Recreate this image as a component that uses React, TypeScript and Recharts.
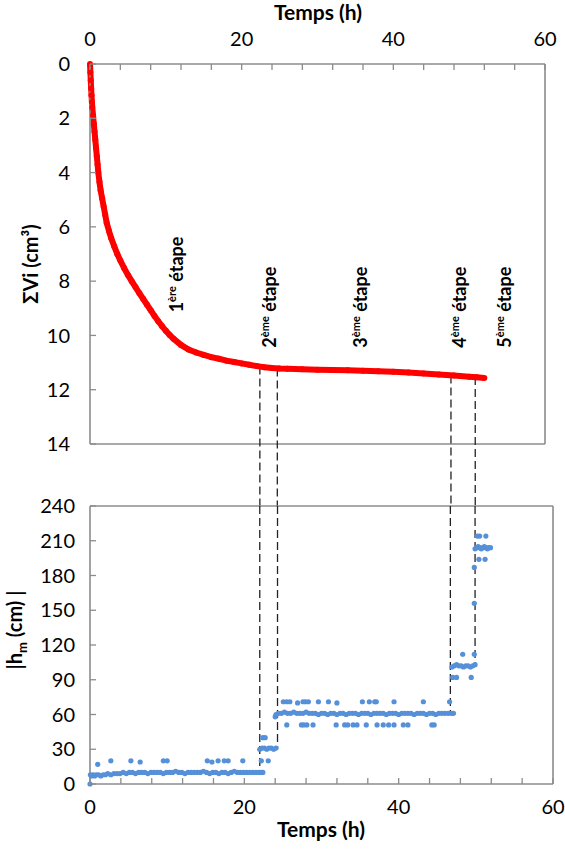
import React from "react";
import { ComposedChart, Line, Scatter, XAxis, YAxis, ReferenceLine, ReferenceDot, Label } from "recharts";

const FONT = "Lato, 'Open Sans', sans-serif";
const AXIS = "#8c8c8c";
const RED = "#ff0000";
const BLUE = "#5590d9";
const DASH = "#222222";

// shared axis ticks (labels only on every 20 h)
const timeTicks = [0, 4, 8, 12, 16, 20, 24, 28, 32, 36, 40, 44, 48, 52, 56, 60];
const volTicks = [0, 2, 4, 6, 8, 10, 12, 14];
const headTicks = [0, 30, 60, 90, 120, 150, 180, 210, 240];

// top: cumulative infiltrated volume ΣVi (cm3) vs time (h)
const curveT = [0, 0.05, 0.1, 0.15, 0.2, 0.25, 0.3, 0.4, 0.5, 0.6, 0.7, 0.8, 0.9, 1.0, 1.1, 1.25, 1.4, 1.6, 1.8, 2.0, 2.2, 2.5, 2.8, 3.2, 3.6, 4.0, 4.5, 5.0, 5.5, 6.0, 6.5, 7.0, 7.5, 8.0, 8.5, 9.0, 9.5, 10, 10.5, 11, 12, 13, 14, 15, 16, 17, 18, 19, 20, 21, 22, 23, 24, 25, 26, 28, 30, 32, 34, 36, 38, 40, 42, 44, 46, 48, 50, 51, 52];
const curveV = [0, 0.3, 0.6, 0.9, 1.15, 1.4, 1.6, 1.9, 2.2, 2.5, 2.8, 3.1, 3.4, 3.7, 4.0, 4.35, 4.65, 4.95, 5.25, 5.55, 5.85, 6.15, 6.42, 6.72, 7.0, 7.24, 7.52, 7.77, 8.0, 8.22, 8.44, 8.65, 8.86, 9.07, 9.28, 9.48, 9.66, 9.83, 9.98, 10.12, 10.35, 10.52, 10.63, 10.72, 10.8, 10.86, 10.93, 10.98, 11.03, 11.08, 11.13, 11.17, 11.2, 11.22, 11.23, 11.25, 11.26, 11.27, 11.28, 11.3, 11.32, 11.34, 11.37, 11.4, 11.44, 11.48, 11.52, 11.54, 11.57];

// bottom: |hm| (cm) vs time (h), one list per stage
const stage1 = [
  [0, 0], [0.05, 8], [0.2, 7], [0.4, 8], [0.6, 7], [0.8, 8], [1.1, 8], [1.4, 7], [1.7, 8], [2.0, 8], [2.3, 9], [2.7, 8],
  [3.1, 9], [3.5, 9], [3.9, 9], [4.3, 10], [4.7, 9], [5.1, 10], [5.5, 10], [5.9, 9], [6.3, 10], [6.7, 10], [7.1, 10],
  [7.5, 9], [7.9, 10], [8.3, 10], [8.7, 10], [9.1, 10], [9.5, 9], [9.9, 10], [10.3, 10], [10.7, 10], [11.1, 11], [11.5, 10],
  [11.9, 10], [12.3, 9], [12.7, 10], [13.1, 10], [13.5, 10], [13.9, 10], [14.3, 10], [14.7, 11], [15.1, 10], [15.5, 9],
  [15.9, 10], [16.3, 10], [16.7, 9], [17.1, 10], [17.5, 10], [17.9, 9], [18.3, 10], [18.7, 11], [19.1, 10], [19.5, 10],
  [19.9, 10], [20.3, 10], [20.7, 10], [21.1, 10], [21.5, 10], [21.9, 10], [22.2, 10], [22.4, 10],
  [1.0, 17], [2.7, 20], [5.3, 20], [6.5, 19], [9.5, 20], [10.0, 20], [15.2, 20], [15.8, 19], [16.6, 20], [17.4, 20], [17.9, 20], [19.8, 20],
];
const stage2 = [
  [22.0, 30], [22.3, 31], [22.6, 31], [22.9, 30], [23.2, 31], [23.5, 31], [23.8, 30], [24.1, 31],
  [22.4, 40], [22.7, 40], [22.2, 20], [23.1, 20],
];
const stage3 = [
  [24.0, 58], [24.1, 60], [24.4, 61], [24.8, 61], [25.2, 62], [25.6, 61], [26.0, 61], [26.4, 62], [26.8, 61], [27.2, 61],
  [27.6, 61], [28.0, 62], [28.4, 61], [28.8, 61], [29.2, 61], [29.6, 60], [30.0, 61], [30.4, 61], [30.8, 60], [31.2, 61],
  [31.6, 61], [32.0, 60], [32.4, 61], [32.8, 61], [33.2, 60], [33.6, 61], [34.0, 61], [34.4, 61], [34.8, 60], [35.2, 61],
  [35.6, 61], [36.0, 61], [36.4, 60], [36.8, 61], [37.2, 61], [37.6, 61], [38.0, 61], [38.4, 60], [38.8, 61], [39.2, 61],
  [39.6, 61], [40.0, 60], [40.4, 61], [40.8, 61], [41.2, 61], [41.6, 61], [42.0, 60], [42.4, 61], [42.8, 61], [43.2, 61],
  [43.6, 60], [44.0, 61], [44.4, 61], [44.8, 60], [45.2, 61], [45.6, 61], [46.0, 61], [46.4, 61], [46.8, 61], [47.1, 61],
  [25.05, 71], [25.5, 71], [25.9, 71], [26.9, 70], [27.6, 71], [27.9, 71], [28.3, 71], [29.6, 71], [30.9, 71], [32.0, 70],
  [35.3, 71], [36.2, 71], [36.9, 71], [37.1, 71], [39.4, 71], [43.2, 71], [46.6, 71],
  [25.5, 51], [27.4, 51], [27.7, 51], [28.1, 51], [28.9, 51], [31.9, 51], [33.0, 51], [33.4, 51], [34.1, 51], [34.6, 51],
  [35.8, 51], [37.2, 51], [38.0, 51], [38.7, 51], [39.4, 51], [40.6, 51], [41.2, 51], [44.3, 51], [44.6, 51],
];
const stage4 = [
  [46.9, 101], [47.2, 102], [47.5, 103], [47.8, 102], [48.1, 102], [48.4, 101], [48.7, 102], [49.0, 102], [49.3, 101],
  [49.6, 102], [49.9, 103], [48.3, 112], [49.8, 112], [47.0, 92], [47.5, 92], [49.4, 92],
];
const stage5 = [
  [49.8, 156], [49.8, 187], [49.9, 203], [50.1, 204], [50.3, 205], [50.5, 204], [50.7, 203], [50.9, 204], [51.1, 205],
  [51.3, 204], [51.5, 203], [51.7, 204], [51.9, 204], [50.2, 214], [50.5, 214], [51.3, 214], [50.4, 194], [51.2, 194],
];

// stage boundaries: read on the top time axis and on the bottom time axis
const boundTopT = [22.4, 24.7, 47.6, 50.8];
const boundBottomT = [22.0, 24.3, 46.7, 49.9];
const boundBottomH = [10, 30, 61, 102];

// stage labels (anchor = foot of the rotated text)
const stageNum = ["1", "2", "3", "4", "5"];
const stageSup = ["ère", "ème", "ème", "ème", "ème"];
const stageLabelT = [12.3, 24.5, 36.5, 49.6, 55.5];
const stageLabelV = [9.15, 10.45, 10.45, 10.45, 10.45];

const curve = curveT.map((t, i) => ({ t, v: curveV[i] }));
const toPts = (a: number[][]) => a.map(([t, h]) => ({ t, h }));
const curveAt = (t: number) => {
  for (let i = 1; i < curveT.length; i++) {
    if (curveT[i] >= t) {
      const f = (t - curveT[i - 1]) / (curveT[i] - curveT[i - 1]);
      return curveV[i - 1] + f * (curveV[i] - curveV[i - 1]);
    }
  }
  return curveV[curveV.length - 1];
};

const TOP_H = 506;
const TICK_LEN = 6;
const txt = { fontFamily: FONT, fontSize: 20, fill: "#000" };
const title = { fontFamily: FONT, fontSize: 20, fontWeight: 700, fill: "#000" };
const xTitle = { ...title, fontSize: 21 };
const axisLine = { stroke: AXIS, strokeWidth: 1.6 };

// ticks drawn inward, labels only where wanted
const xTick = (side: "top" | "bottom", gap: number) => (p: any) => {
  const v = p.payload.value;
  const axisY = side === "top" ? p.y + gap : p.y - gap;
  const inner = side === "top" ? axisY + TICK_LEN : axisY - TICK_LEN;
  return (
    <g>
      <line x1={p.x} x2={p.x} y1={axisY} y2={inner} stroke={AXIS} strokeWidth={1.3} />
      {v % 20 === 0 && (
        <text x={p.x} y={p.y} dy={side === "top" ? 0 : "0.72em"} textAnchor="middle" {...txt}>{v}</text>
      )}
    </g>
  );
};
const yTick = (gap: number) => (p: any) => {
  const axisX = p.x + gap;
  return (
    <g>
      <line x1={axisX} x2={axisX + TICK_LEN} y1={p.y} y2={p.y} stroke={AXIS} strokeWidth={1.3} />
      <text x={p.x} y={p.y} dy="0.36em" textAnchor="end" {...txt}>{p.payload.value}</text>
    </g>
  );
};
const dot = (p: any) => <circle cx={p.cx} cy={p.cy} r={2.6} fill={BLUE} />;

function TopChart() {
  return (
    <ComposedChart width={565} height={TOP_H} data={curve} margin={{ top: 24, right: 20, bottom: 62, left: 40 }}>
      <XAxis
        dataKey="t" type="number" orientation="top" domain={[0, 60]} ticks={timeTicks} interval={0}
        height={40} tickSize={0} tickMargin={18} tick={xTick("top", 18)} tickLine={false} axisLine={axisLine}
      >
        <Label content={() => <text x={318} y={20} textAnchor="middle" {...xTitle}>Temps (h)</text>} />
      </XAxis>
      <YAxis
        type="number" domain={[0, 14]} reversed ticks={volTicks} interval={0} width={50}
        tickSize={0} tickMargin={20} tick={yTick(20)} tickLine={false} axisLine={axisLine}
      >
        <Label content={() => (
          <text transform="rotate(-90)" x={-264} y={38} textAnchor="middle" {...title}>ΣVi (cm³)</text>
        )} />
      </YAxis>
      <ReferenceLine x={60} stroke={AXIS} strokeWidth={1.6} ifOverflow="visible" />
      <ReferenceLine y={14} stroke={AXIS} strokeWidth={1.6} ifOverflow="visible" />
      {boundTopT.map((t) => (
        <ReferenceLine
          key={t}
          segment={[{ x: t, y: curveAt(t) }, { x: t, y: 14 }]}
          shape={(p: any) => (
            <line x1={p.x1} x2={p.x2} y1={Math.min(p.y1, p.y2)} y2={TOP_H} stroke={DASH} strokeWidth={1.3} strokeDasharray="8 4" />
          )}
        />
      ))}
      <Line
        dataKey="v" type="linear" stroke={RED} strokeWidth={6}
        dot={{ r: 3, fill: RED, stroke: RED, strokeWidth: 0 }} isAnimationActive={false}
      />
      {stageNum.map((n, i) => (
        <ReferenceDot
          key={n} x={stageLabelT[i]} y={stageLabelV[i]}
          shape={(p: any) => (
            <text x={p.cx} y={p.cy} transform={`rotate(-90 ${p.cx} ${p.cy})`} fontFamily={FONT} fontWeight={700} fontSize={18}>
              {n}
              <tspan dy={-7} fontSize={11}>{stageSup[i]}</tspan>
              <tspan dy={7}> étape</tspan>
            </text>
          )}
        />
      ))}
    </ComposedChart>
  );
}

function BottomChart() {
  return (
    <ComposedChart width={565} height={360} margin={{ top: 16, right: 12, bottom: 16, left: 40 }}>
      <XAxis
        dataKey="t" type="number" orientation="bottom" domain={[0, 60]} ticks={timeTicks} interval={0}
        height={50} tickSize={0} tickMargin={16} tick={xTick("bottom", 16)} tickLine={false} axisLine={axisLine}
      >
        <Label content={() => <text x={321} y={347} textAnchor="middle" {...xTitle}>Temps (h)</text>} />
      </XAxis>
      <YAxis
        dataKey="h" type="number" domain={[0, 240]} ticks={headTicks} interval={0} width={50}
        tickSize={0} tickMargin={15} tick={yTick(15)} tickLine={false} axisLine={axisLine}
      >
        <Label content={() => (
          <text transform="rotate(-90)" x={-140} y={22} textAnchor="middle" {...title}>
            |h<tspan dy={5} fontSize={13}>m</tspan><tspan dy={-5}> (cm)  |</tspan>
          </text>
        )} />
      </YAxis>
      <ReferenceLine x={60} stroke={AXIS} strokeWidth={1.6} ifOverflow="visible" />
      <ReferenceLine y={240} stroke={AXIS} strokeWidth={1.6} ifOverflow="visible" />
      {boundBottomT.map((t, i) => (
        <ReferenceLine
          key={t}
          segment={[{ x: t, y: 240 }, { x: t, y: boundBottomH[i] }]}
          stroke={DASH} strokeWidth={1.3} strokeDasharray="8 4"
        />
      ))}
      {[stage1, stage2, stage3, stage4, stage5].map((s, i) => (
        <Scatter key={i} data={toPts(s)} dataKey="h" fill={BLUE} shape={dot} isAnimationActive={false} />
      ))}
    </ComposedChart>
  );
}

export default function App() {
  return (
    <div style={{ position: "absolute", left: 0, top: 0, width: 565, height: 850, background: "#fff" }}>
      <div style={{ position: "absolute", left: 0, top: 0 }}>
        <TopChart />
      </div>
      <div style={{ position: "absolute", left: 0, top: 490 }}>
        <BottomChart />
      </div>
    </div>
  );
}
